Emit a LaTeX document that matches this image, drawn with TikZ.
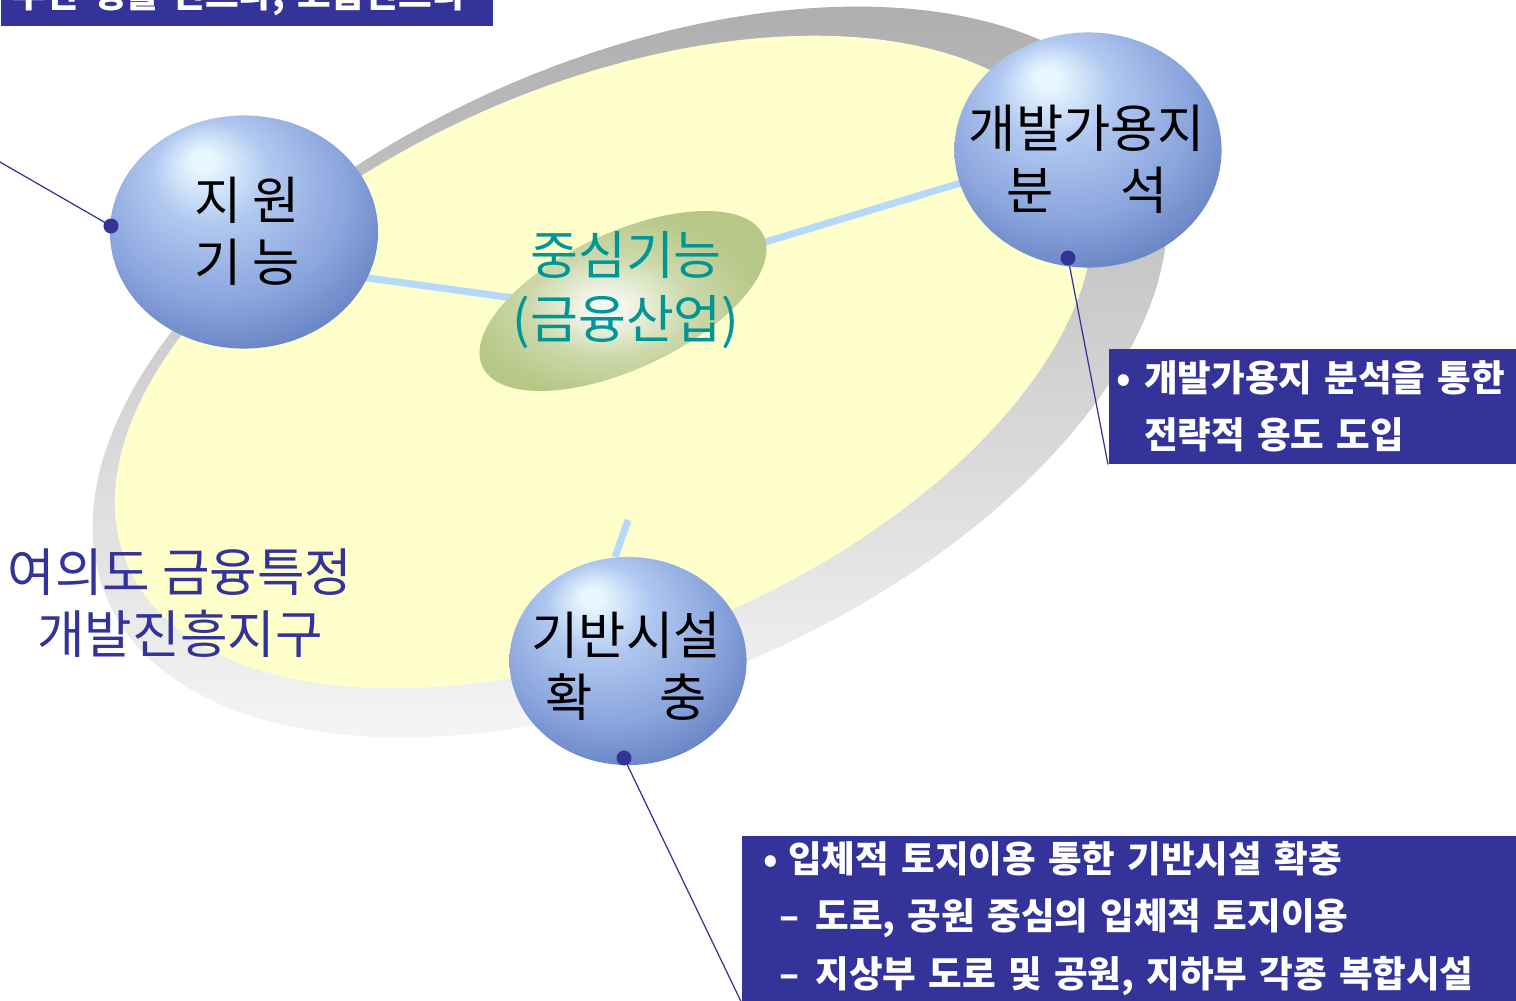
\documentclass[tikz,border=0pt]{standalone}
\usepackage{fontspec}
\setmainfont{Noto Sans CJK KR}
\usepackage{xcolor}
\usepackage{tikz}
\usetikzlibrary{shapes.geometric,positioning}

\definecolor{boxblue}{RGB}{51,51,153}
\definecolor{diskyellow}{RGB}{255,255,204}
\definecolor{ringtop}{RGB}{174,174,174}
\definecolor{ringbot}{RGB}{247,247,247}
\definecolor{linkblue}{RGB}{182,216,250}
\definecolor{corefont}{RGB}{0,150,150}
\definecolor{sphhi}{RGB}{232,248,255}
\definecolor{sphlt}{RGB}{176,200,240}
\definecolor{sphmid}{RGB}{140,166,222}
\definecolor{sphdk}{RGB}{84,114,182}
\definecolor{corehi}{RGB}{244,247,238}
\definecolor{coremid}{RGB}{204,216,170}
\definecolor{coredk}{RGB}{182,199,134}

\pgfdeclareradialshading{sphereshade}{\pgfpoint{-8bp}{16bp}}{color(0bp)=(sphhi); color(2bp)=(sphhi); color(11bp)=(sphlt); color(23bp)=(sphmid); color(37bp)=(sphdk); color(50bp)=(sphdk)}
\pgfdeclareradialshading{coreshade}{\pgfpoint{-3bp}{-2bp}}{color(0bp)=(corehi); color(3bp)=(corehi); color(13bp)=(coremid); color(24bp)=(coredk); color(50bp)=(coredk)}

\pgfdeclarelayer{disk}
\pgfdeclarelayer{links}
\pgfsetlayers{disk,links,main}

\begin{document}
\begin{tikzpicture}[
    x=0.01cm, y=-0.01cm,
    ball/.style={ellipse, shading=sphereshade, inner sep=0pt},
    coreball/.style={ellipse, shading=coreshade, inner sep=0pt, rotate=25},
    balltext/.style={align=center, font=\fontsize{14.6}{17.6}\selectfont},
    coretext/.style={align=center, text=corefont, font=\fontsize{14.8}{18.2}\selectfont},
    zonetext/.style={align=center, text=boxblue, font=\fontsize{14.7}{17.6}\selectfont},
    link/.style={linkblue, line width=2pt},
    leader/.style={boxblue, line width=0.35pt},
    dot/.style={circle, fill=boxblue, inner sep=0pt, minimum size=0.15cm},
    infobox/.style={fill=boxblue, text=white, align=left, inner ysep=0pt, font=\fontsize{10.4}{16.4}\selectfont\bfseries}
]
\useasboundingbox (0,0) rectangle (1516,1000);

\begin{pgfonlayer}{disk}
\begin{scope}
\clip[rotate around={23.5:(630,372)}] (630,372) ellipse [x radius=570, y radius=312];
\shade[top color=ringtop, bottom color=ringbot] (40,0) rectangle (1220,760);
\end{scope}
\fill[diskyellow, rotate around={23:(604,362)}] (604,362) ellipse [x radius=518, y radius=278];
\end{pgfonlayer}

\node[ball, minimum width=2.68cm, minimum height=2.33cm] (jiwon) at (244,232) {};
\node[ball, minimum width=2.67cm, minimum height=2.35cm] (gaebal) at (1088,150) {};
\node[ball, minimum width=2.37cm, minimum height=2.08cm] (giban) at (628,661) {};
\node[coreball, minimum width=3.1cm, minimum height=1.36cm] (core) at (623,301) {};

\node[balltext] at (247,231) {지 원\\기 능};
\node[balltext] at (1087,159) {개발가용지\\분\hspace{1.3em}석};
\node[balltext] at (626,666) {기반시설\\확\hspace{1.3em}충};
\node[coretext] at (626,290) {중심기능\\(금융산업)};
\node[zonetext] (zone) at (180,603) {여의도 금융특정\\개발진흥지구};

\node[dot] (jdot) at (111,226) {};
\node[dot] (gdot) at (1068,258) {};
\node[dot] (bdot) at (624,758) {};

\node[infobox, anchor=south west, minimum height=0.6cm, inner xsep=0.12cm, text width=4.68cm] (topbox) at (0,27) {부한 생활 인프라, 고급인프라};
\node[infobox, anchor=north west, minimum height=1.15cm, inner xsep=0.08cm, text width=4.4cm] (devbox) at (1108,348) {\makebox[0.75em][l]{•}개발가용지 분석을 통한\\\hspace*{0.75em}전략적 용도 도입};
\node[infobox, anchor=north west, minimum height=1.65cm, inner xsep=0.22cm, text width=8cm] (infrabox) at (741,835) {\makebox[0.67em][l]{•}입체적 토지이용 통한 기반시설 확충\\\hspace*{0.42em}\makebox[1em][l]{–}도로, 공원 중심의 입체적 토지이용\\\hspace*{0.42em}\makebox[1em][l]{–}지상부 도로 및 공원, 지하부 각종 복합시설};

\begin{pgfonlayer}{links}
\draw[link] ([yshift=-0.29cm]jiwon.center) -- ([yshift=-0.12cm]core.center);
\draw[link] ([yshift=0.055cm]gaebal.center) -- ([yshift=0.16cm]core.center);
\coordinate (stub) at (628,520);
\draw[link] (stub) -- (giban.97);
\coordinate (toplead) at (0,162);
\draw[leader] (toplead) -- (jdot.center);
\draw[leader] (gdot.center) -- (devbox.south west);
\draw[leader] (bdot.center) -- (infrabox.south west);
\end{pgfonlayer}
\end{tikzpicture}
\end{document}
